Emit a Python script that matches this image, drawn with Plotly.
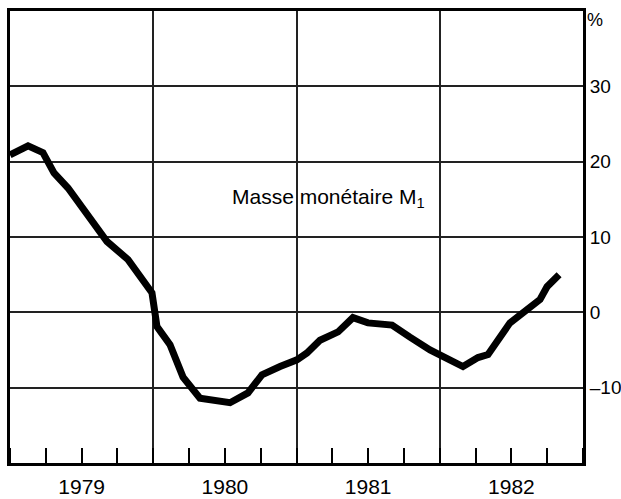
import plotly.graph_objects as go

# Data (fractional year, % change)
years_x = [1979.000, 1979.126, 1979.230, 1979.307, 1979.405, 1979.503, 1979.607, 1979.677,
           1979.824, 1979.908, 1979.991, 1980.012, 1980.026, 1980.117, 1980.208, 1980.326,
           1980.417, 1980.536, 1980.661, 1980.759, 1980.885, 1981.003, 1981.073, 1981.164,
           1981.290, 1981.394, 1981.499, 1981.667, 1981.792, 1981.932, 1982.162, 1982.267,
           1982.337, 1982.490, 1982.700, 1982.749, 1982.833]
m1_values = [20.9, 22.1, 21.2, 18.5, 16.5, 14.0, 11.4, 9.4,
             7.0, 4.7, 2.6, -0.1, -1.9, -4.3, -8.6, -11.4,
             -11.6, -12.0, -10.7, -8.3, -7.2, -6.3, -5.4, -3.7,
             -2.6, -0.7, -1.4, -1.7, -3.3, -5.0, -7.2, -6.0,
             -5.6, -1.4, 1.7, 3.4, 5.0]

year_labels = ["1979", "1980", "1981", "1982"]
year_mid = [1979.5, 1980.5, 1981.5, 1982.5]
year_bounds = [1979, 1980, 1981, 1982, 1983]
y_ticks = [-10, 0, 10, 20, 30]
y_tick_text = ["–10", "0", "10", "20", "30"]

FONT = "Liberation Sans, Arial, Helvetica, sans-serif"

fig = go.Figure()
fig.add_trace(go.Scatter(
    x=years_x, y=m1_values, mode="lines",
    line=dict(color="black", width=7),
    hoverinfo="skip", showlegend=False, xaxis="x", yaxis="y"))
# invisible trace to anchor the label axis
fig.add_trace(go.Scatter(
    x=[year_bounds[0], year_bounds[-1]], y=[0, 0], mode="lines",
    line=dict(width=0, color="rgba(0,0,0,0)"),
    hoverinfo="skip", showlegend=False, xaxis="x2", yaxis="y"))

fig.update_layout(
    width=621, height=499,
    margin=dict(l=10, r=38, t=11, b=36),
    paper_bgcolor="white", plot_bgcolor="white",
    font=dict(family=FONT, color="black"),
    xaxis=dict(
        range=[year_bounds[0], year_bounds[-1]],
        tickmode="array", tickvals=year_bounds,
        showticklabels=False, ticks="", automargin=False,
        showgrid=True, gridcolor="#222", gridwidth=1.5,
        showline=True, linecolor="black", linewidth=3, mirror=True,
        zeroline=False,
        minor=dict(tick0=1979, dtick=0.25, ticks="inside", ticklen=15,
                   tickwidth=1.5, tickcolor="black", showgrid=False),
    ),
    xaxis2=dict(
        range=[year_bounds[0], year_bounds[-1]],
        overlaying="x", side="bottom", anchor="y", automargin=False,
        tickmode="array", tickvals=year_mid, ticktext=year_labels,
        ticks="outside", ticklen=5, tickcolor="rgba(0,0,0,0)",
        tickfont=dict(size=21, family=FONT, color="black"),
        showgrid=False, showline=False, zeroline=False,
    ),
    yaxis=dict(
        range=[-20, 40], side="right", automargin=False,
        tickmode="array", tickvals=y_ticks, ticktext=y_tick_text,
        tickfont=dict(size=19, family=FONT, color="black"),
        ticks="", showgrid=True, gridcolor="#222", gridwidth=1.5,
        showline=True, linecolor="black", linewidth=3, mirror=True,
        zeroline=False,
    ),
    annotations=[
        dict(x=1980.536, y=15.2, xref="x", yref="y", xanchor="left", yanchor="middle",
             text="<span style='color:black'>Masse monétaire M<sub>1</sub></span>",
             showarrow=False,
             font=dict(size=21, family=FONT, color="black")),
        dict(x=1.021, y=0.98, xref="paper", yref="paper", xanchor="center", yanchor="middle",
             text="%", showarrow=False,
             font=dict(size=18, family=FONT, color="black")),
    ],
)

fig.write_html(
    "out.html",
    config={"displayModeBar": False},
    post_script="document.body.style.margin='0';document.body.style.padding='0';"
                "document.body.style.overflow='hidden';",
)
